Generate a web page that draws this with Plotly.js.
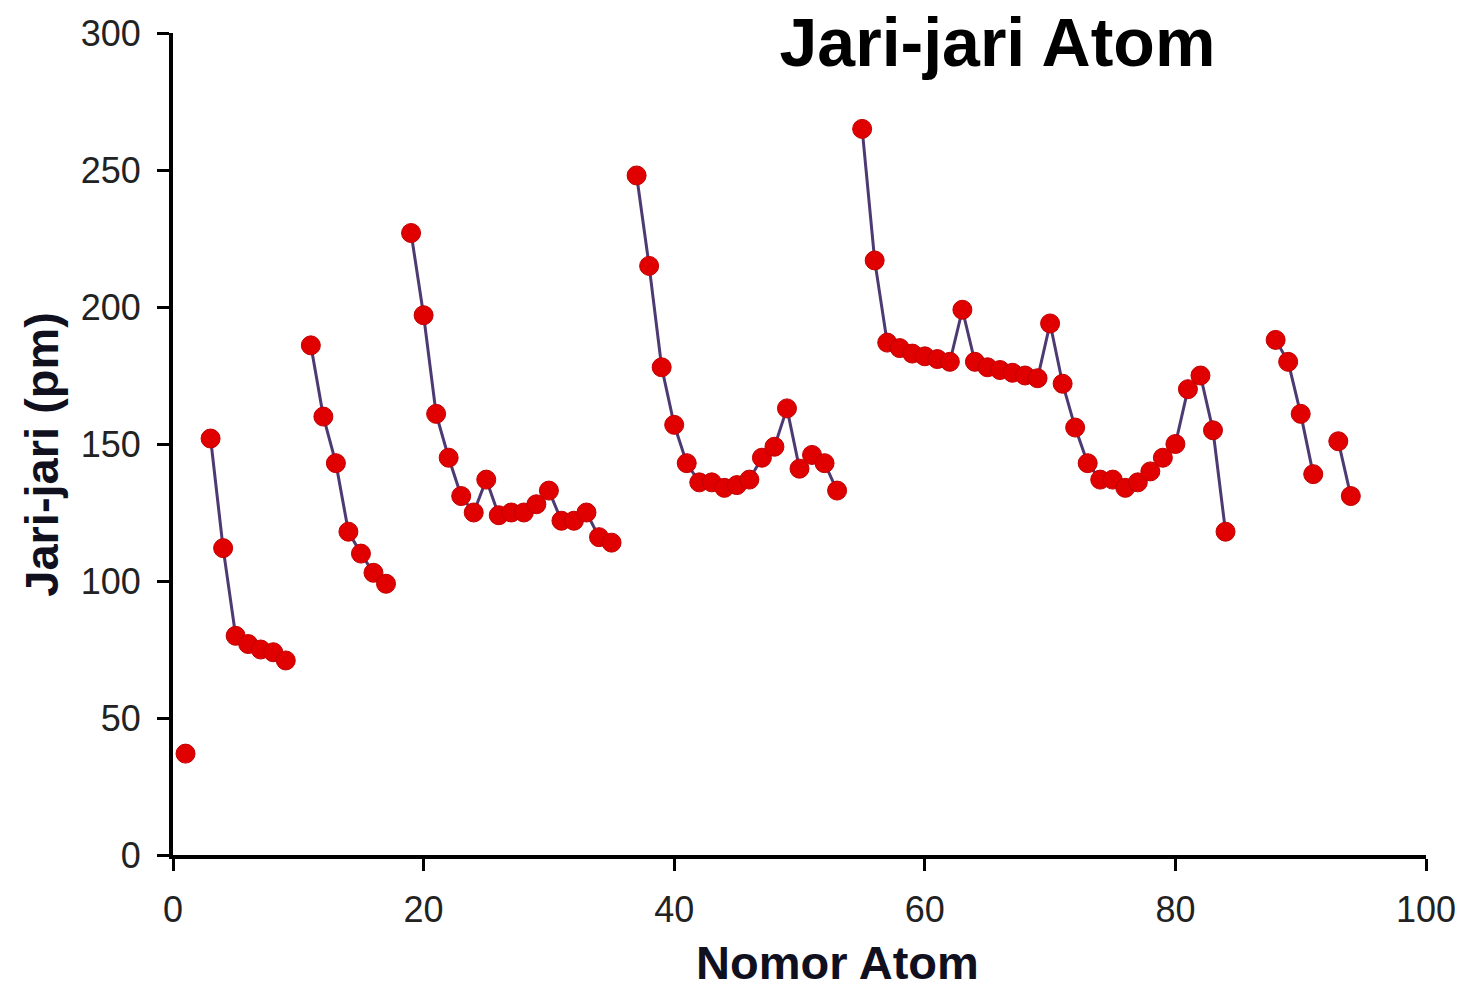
<!DOCTYPE html>
<html>
<head>
<meta charset="utf-8">
<script src="https://cdn.plot.ly/plotly-3.0.1.min.js"></script>
<style>
  html, body { margin: 0; padding: 0; background: #ffffff; }
  #chart { width: 1470px; height: 995px; }
</style>
</head>
<body>
<div id="chart"></div>
<script>
// Atomic number (Nomor Atom)
const atomicNumber = [
  1, 2, 3, 4, 5, 6, 7, 8, 9, 10,
  11, 12, 13, 14, 15, 16, 17, 18, 19, 20,
  21, 22, 23, 24, 25, 26, 27, 28, 29, 30,
  31, 32, 33, 34, 35, 36, 37, 38, 39, 40,
  41, 42, 43, 44, 45, 46, 47, 48, 49, 50,
  51, 52, 53, 54, 55, 56, 57, 58, 59, 60,
  61, 62, 63, 64, 65, 66, 67, 68, 69, 70,
  71, 72, 73, 74, 75, 76, 77, 78, 79, 80,
  81, 82, 83, 84, 85, 86, 87, 88, 89, 90,
  91, 92, 93, 94
];
// Atomic radius (Jari-jari, pm); null = no value shown
const atomicRadius = [
  37, null, 152, 112, 80, 77, 75, 74, 71, null,
  186, 160, 143, 118, 110, 103, 99, null, 227, 197,
  161, 145, 131, 125, 137, 124, 125, 125, 128, 133,
  122, 122, 125, 116, 114, null, 248, 215, 178, 157,
  143, 136, 136, 134, 135, 137, 145, 149, 163, 141,
  146, 143, 133, null, 265, 217, 187, 185, 183, 182,
  181, 180, 199, 180, 178, 177, 176, 175, 174, 194,
  172, 156, 143, 137, 137, 134, 136, 140, 145, 150,
  170, 175, 155, 118, null, null, null, 188, 180, 161,
  139, null, 151, 131
];
const xTickValues = [0, 20, 40, 60, 80, 100];
const yTickValues = [0, 50, 100, 150, 200, 250, 300];

const chartTitle = 'Jari-jari Atom';
const xTitle = 'Nomor Atom';
const yTitle = 'Jari-jari (pm)';

const FONT = 'Liberation Sans, Arial, Helvetica, sans-serif';

const trace = {
  type: 'scatter',
  mode: 'lines+markers',
  x: atomicNumber,
  y: atomicRadius,
  connectgaps: false,
  line: { color: '#4e3a72', width: 3 },
  marker: { color: '#e00000', size: 19, line: { color: '#c00000', width: 1 } },
  cliponaxis: false,
  hoverinfo: 'x+y'
};

const axisCommon = {
  showgrid: false,
  zeroline: false,
  showline: true,
  linecolor: '#000000',
  linewidth: 4,
  ticks: 'outside',
  ticklen: 12,
  tickwidth: 3,
  tickcolor: '#000000',
  tickfont: { family: FONT, size: 36, color: '#222222' },
  fixedrange: true
};

const layout = {
  width: 1470,
  height: 995,
  paper_bgcolor: '#ffffff',
  plot_bgcolor: '#ffffff',
  margin: { l: 173, r: 44, t: 33, b: 140, autoexpand: false },
  showlegend: false,
  title: {
    text: '<b>' + chartTitle + '</b>',
    font: { family: FONT, size: 68, color: '#000000' },
    x: 0.658, xref: 'paper', xanchor: 'center',
    y: 0.958, yref: 'container', yanchor: 'middle'
  },
  xaxis: Object.assign({}, axisCommon, {
    range: [0, 100],
    tickmode: 'array',
    tickvals: xTickValues,
    ticktext: xTickValues.map(String),
    ticklabelstandoff: 8
  }),
  yaxis: Object.assign({}, axisCommon, {
    range: [0, 300],
    tickmode: 'array',
    tickvals: yTickValues,
    ticktext: yTickValues.map(String),
    ticklabelstandoff: 9
  }),
  annotations: [
    {
      text: '<b>' + xTitle + '</b>',
      xref: 'paper', yref: 'paper',
      x: 0.53, y: -0.1302,
      xanchor: 'center', yanchor: 'middle',
      showarrow: false,
      font: { family: FONT, size: 47, color: '#10101e' }
    },
    {
      text: '<b>' + yTitle + '</b>',
      xref: 'paper', yref: 'paper',
      x: -0.1045, y: 0.487,
      xanchor: 'center', yanchor: 'middle',
      textangle: -90,
      showarrow: false,
      font: { family: FONT, size: 47, color: '#10101e' }
    }
  ]
};

Plotly.newPlot('chart', [trace], layout, { displayModeBar: false, staticPlot: true });
</script>
</body>
</html>
